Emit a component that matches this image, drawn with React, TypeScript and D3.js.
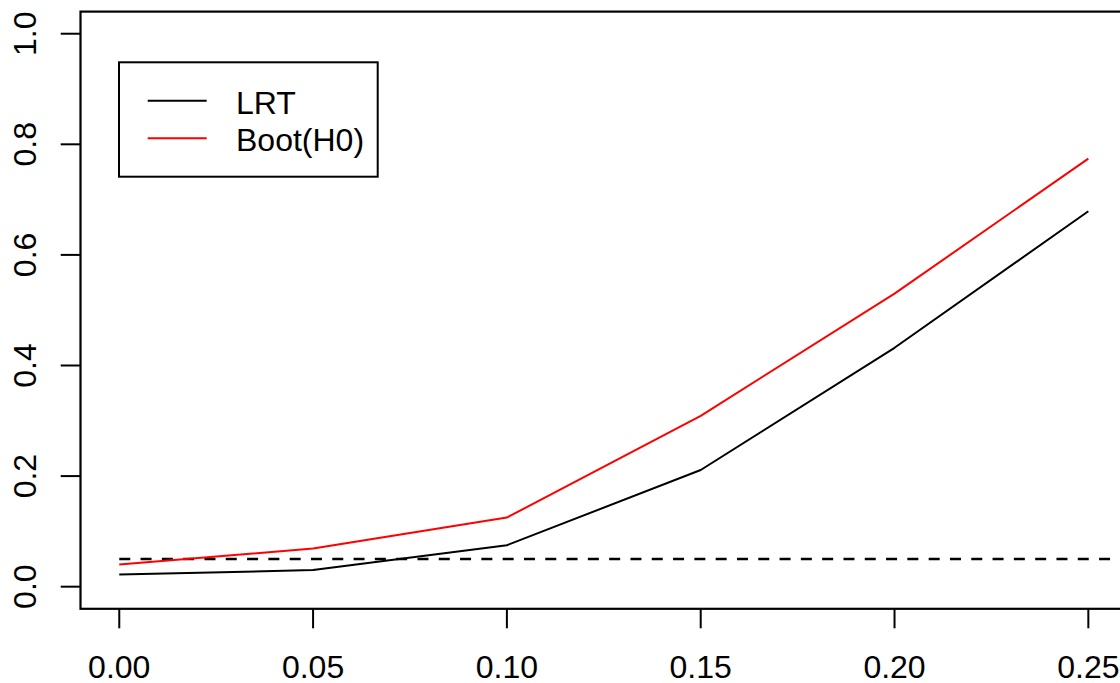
import React from "react";
import * as d3 from "d3";

const xValues = [0, 0.05, 0.1, 0.15, 0.2, 0.25];
const lrtValues = [0.022, 0.03, 0.075, 0.211, 0.432, 0.679];
const bootValues = [0.04, 0.069, 0.125, 0.309, 0.53, 0.774];
const refX = [0, 0.3];
const refY = [0.05, 0.05];
const xTicks = [0, 0.05, 0.1, 0.15, 0.2, 0.25];
const yTicks = [0, 0.2, 0.4, 0.6, 0.8, 1.0];
const legendLabels = ["LRT", "Boot(H0)"];
const legendColors = ["#000000", "#ff0000"];

const W = 1120;
const H = 683;
const FONT = "'Liberation Sans', Arial, Helvetica, sans-serif";

export default function App() {
  const x = d3.scaleLinear().domain([-0.01, 0.26]).range([80.5, 1127.1]);
  const y = d3.scaleLinear().domain([-0.04, 1.04]).range([608.8, 11.6]);

  const line = d3
    .line<[number, number]>()
    .x((d) => x(d[0]))
    .y((d) => y(d[1]));

  const lrt = xValues.map((v, i) => [v, lrtValues[i]] as [number, number]);
  const boot = xValues.map((v, i) => [v, bootValues[i]] as [number, number]);
  const ref = refX.map((v, i) => [v, refY[i]] as [number, number]);

  const left = x(-0.01);
  const right = x(0.26);
  const top = y(1.04);
  const bottom = y(-0.04);

  const legX = 119;
  const legY = 62.3;
  const legW = 258.7;
  const legH = 114.4;
  const legRows = [100.7, 138.3];

  return (
    <svg
      width={W}
      height={H}
      style={{ position: "absolute", left: 0, top: 0, background: "#fff" }}
      fontFamily={FONT}
    >
      <defs>
        <clipPath id="plotclip">
          <rect x={left} y={top} width={right - left} height={bottom - top} />
        </clipPath>
      </defs>
      <rect x={0} y={0} width={W} height={H} fill="#fff" />
      <g clipPath="url(#plotclip)">
        <path d={line(ref) || ""} fill="none" stroke="#000" strokeWidth={2.4} strokeDasharray="11,10.3" />
        <path d={line(lrt) || ""} fill="none" stroke="#000" strokeWidth={2} strokeLinejoin="round" />
        <path d={line(boot) || ""} fill="none" stroke="#ff0000" strokeWidth={2} strokeLinejoin="round" />
      </g>
      <rect
        x={left}
        y={top}
        width={right - left}
        height={bottom - top}
        fill="none"
        stroke="#000"
        strokeWidth={2.2}
      />
      {xTicks.map((t) => (
        <g key={"x" + t}>
          <line x1={x(t)} x2={x(t)} y1={bottom} y2={bottom + 19.5} stroke="#000" strokeWidth={2} />
          <text x={x(t)} y={678} textAnchor="middle" fontSize={32} fill="#000">
            {d3.format(".2f")(t)}
          </text>
        </g>
      ))}
      {yTicks.map((t) => (
        <g key={"y" + t}>
          <line x1={left - 19.8} x2={left} y1={y(t)} y2={y(t)} stroke="#000" strokeWidth={2} />
          <text
            transform={`translate(36,${y(t)}) rotate(-90)`}
            textAnchor="middle"
            fontSize={32}
            fill="#000"
          >
            {d3.format(".1f")(t)}
          </text>
        </g>
      ))}
      <rect x={legX} y={legY} width={legW} height={legH} fill="#fff" stroke="#000" strokeWidth={2} />
      {legendLabels.map((lab, i) => (
        <g key={lab}>
          <line
            x1={147.7}
            x2={206.7}
            y1={legRows[i]}
            y2={legRows[i]}
            stroke={legendColors[i]}
            strokeWidth={2}
          />
          <text x={236} y={legRows[i] + 12.8} fontSize={32} fill="#000">
            {lab}
          </text>
        </g>
      ))}
    </svg>
  );
}
